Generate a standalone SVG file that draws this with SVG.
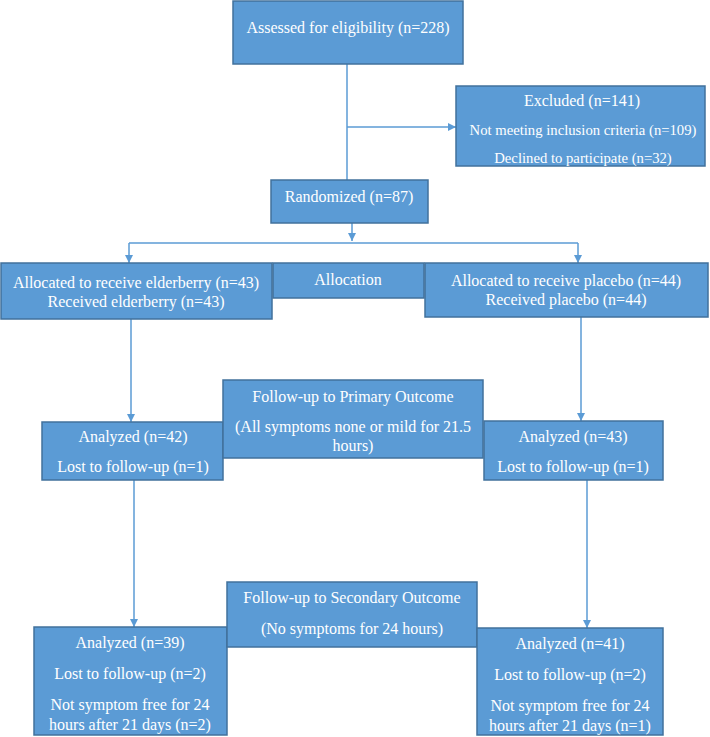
<svg xmlns="http://www.w3.org/2000/svg" width="710" height="737" viewBox="0 0 710 737">
<style>
.b{fill:#5B9BD5;stroke:#41719C;stroke-width:1.5}
.t{font-family:"Liberation Serif","Times New Roman",serif;font-size:16px;fill:#fff;text-anchor:middle}
.s{font-size:14.7px}
.c{fill:none;stroke:#5B9BD5;stroke-width:1.5}
</style>
<defs>
<marker id="a" viewBox="0 0 10 10" refX="10" refY="5" markerWidth="8" markerHeight="8" markerUnits="userSpaceOnUse" orient="auto"><path d="M0,0L10,5L0,10z" fill="#5B9BD5"/></marker>
</defs>
<rect width="710" height="737" fill="#fff"/>
<g id="connectors">
<path class="c" d="M347,64V180"/>
<path class="c" d="M347,127H456" marker-end="url(#a)"/>
<path class="c" d="M129,243H578"/>
<path class="c" d="M129,243V263" marker-end="url(#a)"/>
<path class="c" d="M578,243V263" marker-end="url(#a)"/>
<path class="c" d="M352,223V241" marker-end="url(#a)"/>
<path class="c" d="M131,319V422" marker-end="url(#a)"/>
<path class="c" d="M581,317V421" marker-end="url(#a)"/>
<path class="c" d="M134,480V627" marker-end="url(#a)"/>
<path class="c" d="M587,480V628" marker-end="url(#a)"/>
</g>
<g id="assessed"><rect class="b" x="233" y="1" width="230" height="63"/><text class="t" x="348" y="33">Assessed for eligibility (n=228)</text></g>
<g id="excluded"><rect class="b" x="456" y="86" width="249" height="80"/><text class="t" x="582" y="106">Excluded (n=141)</text><text class="t s" x="583" y="135">Not meeting inclusion criteria (n=109)</text><text class="t s" x="583" y="163">Declined to participate (n=32)</text></g>
<g id="randomized"><rect class="b" x="271" y="180" width="157" height="43"/><text class="t" x="349" y="202">Randomized (n=87)</text></g>
<g id="elderberry"><rect class="b" x="1" y="263" width="271" height="56"/><text class="t" x="136" y="288">Allocated to receive elderberry (n=43)</text><text class="t" x="136" y="307">Received elderberry (n=43)</text></g>
<g id="allocation"><rect class="b" x="273" y="263" width="151" height="35"/><text class="t" x="348" y="285">Allocation</text></g>
<g id="placebo"><rect class="b" x="425" y="263" width="283" height="54"/><text class="t" x="566" y="286">Allocated to receive placebo (n=44)</text><text class="t" x="566" y="305">Received placebo (n=44)</text></g>
<g id="analyzed42"><rect class="b" x="42" y="422" width="181" height="58"/><text class="t" x="133" y="442">Analyzed (n=42)</text><text class="t" x="133" y="472">Lost to follow-up (n=1)</text></g>
<g id="primary"><rect class="b" x="223" y="380" width="260" height="78"/><text class="t" x="353" y="402">Follow-up to Primary Outcome</text><text class="t" x="353" y="432">(All symptoms none or mild for 21.5</text><text class="t" x="353" y="451">hours)</text></g>
<g id="analyzed43"><rect class="b" x="484" y="421" width="179" height="59"/><text class="t" x="573" y="442">Analyzed (n=43)</text><text class="t" x="573" y="472">Lost to follow-up (n=1)</text></g>
<g id="analyzed39"><rect class="b" x="34" y="627" width="193" height="108"/><text class="t" x="130" y="648">Analyzed (n=39)</text><text class="t" x="130" y="679">Lost to follow-up (n=2)</text><text class="t" x="130" y="710">Not symptom free for 24</text><text class="t" x="130" y="730">hours after 21 days (n=2)</text></g>
<g id="secondary"><rect class="b" x="227" y="582" width="250" height="65"/><text class="t" x="352" y="603">Follow-up to Secondary Outcome</text><text class="t" x="352" y="634">(No symptoms for 24 hours)</text></g>
<g id="analyzed41"><rect class="b" x="477" y="628" width="186" height="107"/><text class="t" x="570" y="649">Analyzed (n=41)</text><text class="t" x="570" y="680">Lost to follow-up (n=2)</text><text class="t" x="570" y="711">Not symptom free for 24</text><text class="t" x="570" y="731">hours after 21 days (n=1)</text></g>
</svg>
